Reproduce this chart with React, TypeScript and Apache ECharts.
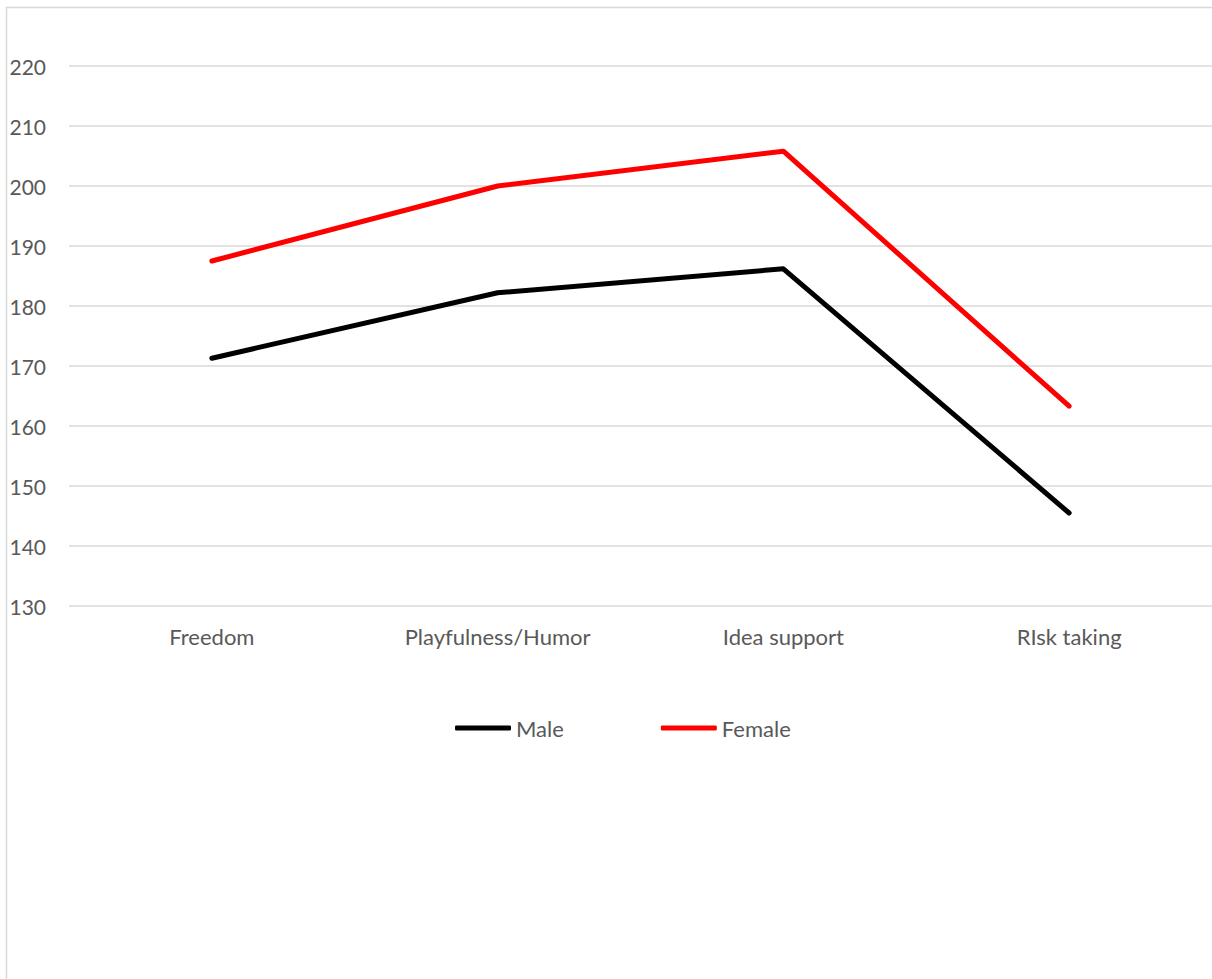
import React, { useEffect, useRef } from "react";
import * as echarts from "echarts";

const categories = ["Freedom", "Playfulness/Humor", "Idea support", "RIsk taking"];
const maleValues = [171.3, 182.2, 186.2, 145.5];
const femaleValues = [187.5, 200.0, 205.8, 163.3];
const yMin = 130;
const yMax = 220;
const yInterval = 10;

export default function App() {
  const ref = useRef<HTMLDivElement>(null);
  useEffect(() => {
    document.body.style.margin = "0";
    const chart = echarts.init(ref.current!, null, { renderer: "svg" });
    const font = "Lato, 'Open Sans', sans-serif";
    chart.setOption({
      animation: false,
      backgroundColor: "#ffffff",
      graphic: [
        { type: "line", shape: { x1: 6.5, y1: 7, x2: 6.5, y2: 979 }, style: { stroke: "#d9d9d9", lineWidth: 1.5 } },
        { type: "line", shape: { x1: 6, y1: 7.5, x2: 1212, y2: 7.5 }, style: { stroke: "#d9d9d9", lineWidth: 1.5 } },
      ],
      grid: { left: 69, top: 66, width: 1144, height: 540, containLabel: false },
      legend: {
        top: 712,
        left: 450,
        itemWidth: 56,
        itemHeight: 5,
        itemGap: 97,
        icon: "roundRect",
        textStyle: { color: "#595959", fontSize: 22, fontFamily: font },
        data: ["Male", "Female"],
      },
      xAxis: {
        type: "category",
        data: categories,
        boundaryGap: true,
        axisLine: { show: false },
        axisTick: { show: false },
        axisLabel: { color: "#595959", fontSize: 22, fontFamily: font, margin: 19 },
        splitLine: { show: false },
      },
      yAxis: {
        type: "value",
        min: yMin,
        max: yMax,
        interval: yInterval,
        axisLine: { show: false },
        axisTick: { show: false },
        axisLabel: { color: "#595959", fontSize: 21, fontFamily: font, margin: 23 },
        splitLine: { lineStyle: { color: "#d9d9d9", width: 1.5 } },
      },
      series: [
        {
          name: "Male",
          type: "line",
          data: maleValues,
          symbol: "none",
          lineStyle: { color: "#000000", width: 5, cap: "round", join: "round" },
          itemStyle: { color: "#000000" },
        },
        {
          name: "Female",
          type: "line",
          data: femaleValues,
          symbol: "none",
          lineStyle: { color: "#ff0000", width: 5, cap: "round", join: "round" },
          itemStyle: { color: "#ff0000" },
        },
      ],
    });
    return () => chart.dispose();
  }, []);
  return <div ref={ref} style={{ width: 1212, height: 979 }} />;
}
